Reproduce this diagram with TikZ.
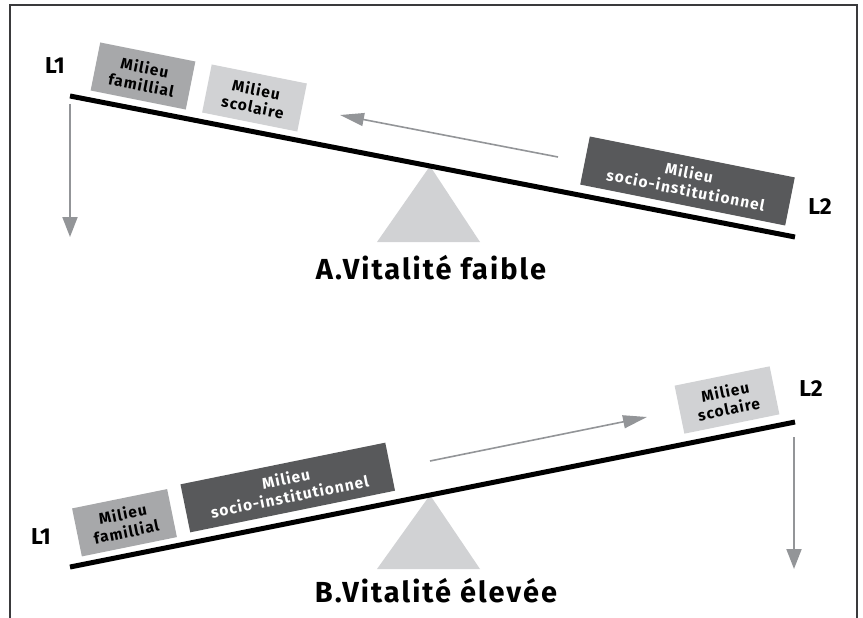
\documentclass[tikz,border=0pt]{standalone}
\usepackage{fontspec}
\setmainfont{Fira Sans}
\usetikzlibrary{arrows.meta}
\definecolor{framec}{HTML}{3A3A3C}
\definecolor{midgray}{HTML}{A7A8AA}
\definecolor{lightgray}{HTML}{D1D2D4}
\definecolor{darkgray}{HTML}{58595B}
\definecolor{arrowgray}{HTML}{939598}
\definecolor{trigray}{HTML}{D1D2D4}
\tikzset{
  beam/.style={line width=5pt, black},
  tri/.style={fill=trigray},
  box/.style={minimum width=97pt, minimum height=49pt, inner sep=0pt, align=center,
    font=\fontsize{15.5}{18}\selectfont\bfseries\addfontfeatures{LetterSpace=7}},
  widebox/.style={box, minimum width=209pt},
  garrow/.style={arrowgray, line width=1.6pt, -{Triangle[length=24pt,width=13pt]}},
  darrow/.style={arrowgray, line width=2pt, -{Triangle[length=20pt,width=15pt]}},
  lab/.style={font=\fontsize{23}{23}\selectfont\bfseries, inner sep=0pt},
  title/.style={font=\fontsize{29}{29}\selectfont\bfseries\addfontfeatures{LetterSpace=7}, inner sep=0pt},
}
\begin{document}
\begin{tikzpicture}[x=1pt,y=-1pt]
\useasboundingbox (0,0) rectangle (863,618);
% frame (open at bottom)
\draw[framec, line width=2pt] (10,618) -- (10,5) -- (857,5) -- (857,618);

% ---------- A ----------
\fill[tri] (430,166) -- (377,242) -- (480,242) -- cycle;
\coordinate (A1) at (70,96);
\coordinate (A2) at (795,237);
\draw[beam] (A1) -- (A2);
\node[box, fill=midgray, rotate=-11.3] (Afam) at (143,76) {Milieu\\famillial};
\node[box, fill=lightgray, rotate=-11.3] (Asco) at (254.5,98) {Milieu\\scolaire};
\node[widebox, fill=darkgray, text=white, rotate=-11.3] (Asoc) at (687.5,181) {Milieu\\socio-institutionnel};
\coordinate (Aas) at (558,157);
\coordinate (Aae) at (340,115);
\draw[garrow] (Aas) -- (Aae);
\coordinate (Ads) at (70,104);
\coordinate (Ade) at (70,237);
\draw[darrow] (Ads) -- (Ade);
\node[lab] (AL1) at (55,66) {L1};
\node[lab] (AL2) at (820,207) {L2};
\node[title] (Atitle) at (431,268) {A.Vitalité faible};

% ---------- B ----------
\fill[tri] (430,495) -- (377,569) -- (480,569) -- cycle;
\coordinate (B1) at (70,567);
\coordinate (B2) at (795,422);
\draw[beam] (B1) -- (B2);
\node[box, fill=midgray, rotate=11.5] (Bfam) at (124.5,522.75) {Milieu\\famillial};
\node[widebox, fill=darkgray, text=white, rotate=11.5] (Bsoc) at (287.75,487.5) {Milieu\\socio-institutionnel};
\node[box, fill=lightgray, rotate=11.5] (Bsco) at (727,400) {Milieu\\scolaire};
\coordinate (Bas) at (430,461);
\coordinate (Bae) at (647,417);
\draw[garrow] (Bas) -- (Bae);
\coordinate (Bds) at (794,437);
\coordinate (Bde) at (794,569);
\draw[darrow] (Bds) -- (Bde);
\node[lab] (BL1) at (41,537) {L1};
\node[lab] (BL2) at (811,389) {L2};
\node[title] (Btitle) at (436,591) {B.Vitalité élevée};
\end{tikzpicture}
\end{document}
